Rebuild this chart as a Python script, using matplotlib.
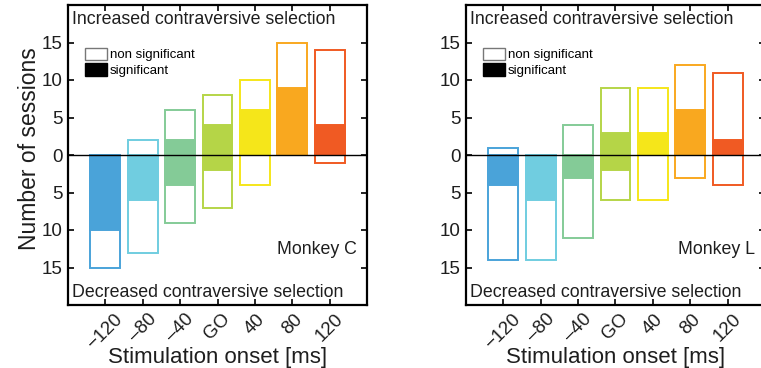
import numpy as np
import matplotlib
matplotlib.use("Agg")
import matplotlib.pyplot as plt
import matplotlib.transforms as mtransforms
from matplotlib.patches import Patch

plt.rcParams["font.family"] = ["Liberation Sans", "DejaVu Sans"]

onsets = ["\u2212120", "\u201380", "\u201340", "GO", "40", "80", "120"]
colors = ["#4aa3d9", "#70cde0", "#84cb97", "#b5d547", "#f5e61a", "#f9a81f", "#f05a23"]

# Monkey C: number of sessions with increased / decreased contraversive selection
c_up_total = [0, 2, 6, 8, 10, 15, 14]
c_up_sig = [0, 0, 2, 4, 6, 9, 4]
c_down_total = [15, 13, 9, 7, 4, 0, 1]
c_down_sig = [10, 6, 4, 2, 0, 0, 0]

# Monkey L
l_up_total = [1, 0, 4, 9, 9, 12, 11]
l_up_sig = [0, 0, 0, 3, 3, 6, 2]
l_down_total = [14, 14, 11, 6, 6, 3, 4]
l_down_sig = [4, 6, 3, 2, 0, 0, 0]

yticks = [-15, -10, -5, 0, 5, 10, 15]
TXT = "#1e1e1e"


def draw_panel(fig, ax, up_total, up_sig, down_total, down_sig, monkey, ylabel):
    x = np.arange(1, len(onsets) + 1)
    up_total = np.array(up_total)
    up_sig = np.array(up_sig)
    down_total = np.array(down_total)
    down_sig = np.array(down_sig)

    # all sessions (outline)
    ax.bar(x, up_total + down_total, bottom=-down_total, width=0.8,
           facecolor="white", edgecolor=colors, linewidth=1.4, zorder=2)
    # significant sessions (filled)
    has_sig = (up_sig + down_sig) > 0
    ax.bar(x[has_sig], (up_sig + down_sig)[has_sig], bottom=-down_sig[has_sig],
           width=0.8, color=np.array(colors)[has_sig],
           edgecolor=np.array(colors)[has_sig], linewidth=1.4, zorder=3)

    ax.axhline(0, color="black", linewidth=1.0, zorder=4)

    ax.set_xlim(0, 8)
    ax.set_ylim(-20, 20)
    ax.set_xticks(x)
    ax.set_xticklabels(onsets, rotation=45, fontsize=13.5, color=TXT)
    shift = mtransforms.ScaledTranslation(4 / 100, 0, fig.dpi_scale_trans)
    for lbl in ax.get_xticklabels():
        lbl.set_transform(lbl.get_transform() + shift)
    ax.set_yticks(yticks)
    ax.set_yticklabels([str(abs(v)) for v in yticks], fontsize=13.5, color=TXT)
    ax.tick_params(direction="in", length=4, width=1.2, top=True, right=True,
                   pad=4)
    for s in ax.spines.values():
        s.set_linewidth(1.6)

    ax.set_xlabel("Stimulation onset [ms]", fontsize=16, color=TXT, labelpad=-4)
    if ylabel:
        ax.set_ylabel("Number of sessions", fontsize=16.5, color=TXT)
        ax.yaxis.set_label_coords(-0.09, 0.52)

    ax.text(0.015, 0.935, "Increased contraversive selection",
            transform=ax.transAxes, fontsize=12.8, color=TXT, va="baseline")
    ax.text(0.015, 0.027, "Decreased contraversive selection",
            transform=ax.transAxes, fontsize=12.8, color=TXT, va="baseline")
    ax.text(0.967, 0.17, monkey, transform=ax.transAxes, fontsize=12.8,
            color=TXT, ha="right", va="baseline")

    handles = [Patch(facecolor="white", edgecolor="#777777", linewidth=1.0),
               Patch(facecolor="black", edgecolor="black")]
    ax.legend(handles, ["non significant", "significant"], loc="upper left",
              bbox_to_anchor=(0.057, 0.858), frameon=False, fontsize=9.5,
              handlelength=1.7, handleheight=1.1, handletextpad=0.2,
              labelspacing=0.15, borderaxespad=0, borderpad=0)


fig = plt.figure(figsize=(7.61, 3.68), dpi=100)
ax1 = fig.add_axes([68 / 761, 63 / 368, 299 / 761, 300 / 368])
ax2 = fig.add_axes([466 / 761, 63 / 368, 299 / 761, 300 / 368])

draw_panel(fig, ax1, c_up_total, c_up_sig, c_down_total, c_down_sig, "Monkey C", True)
draw_panel(fig, ax2, l_up_total, l_up_sig, l_down_total, l_down_sig, "Monkey L", False)

fig.savefig("out.png", dpi=100)
